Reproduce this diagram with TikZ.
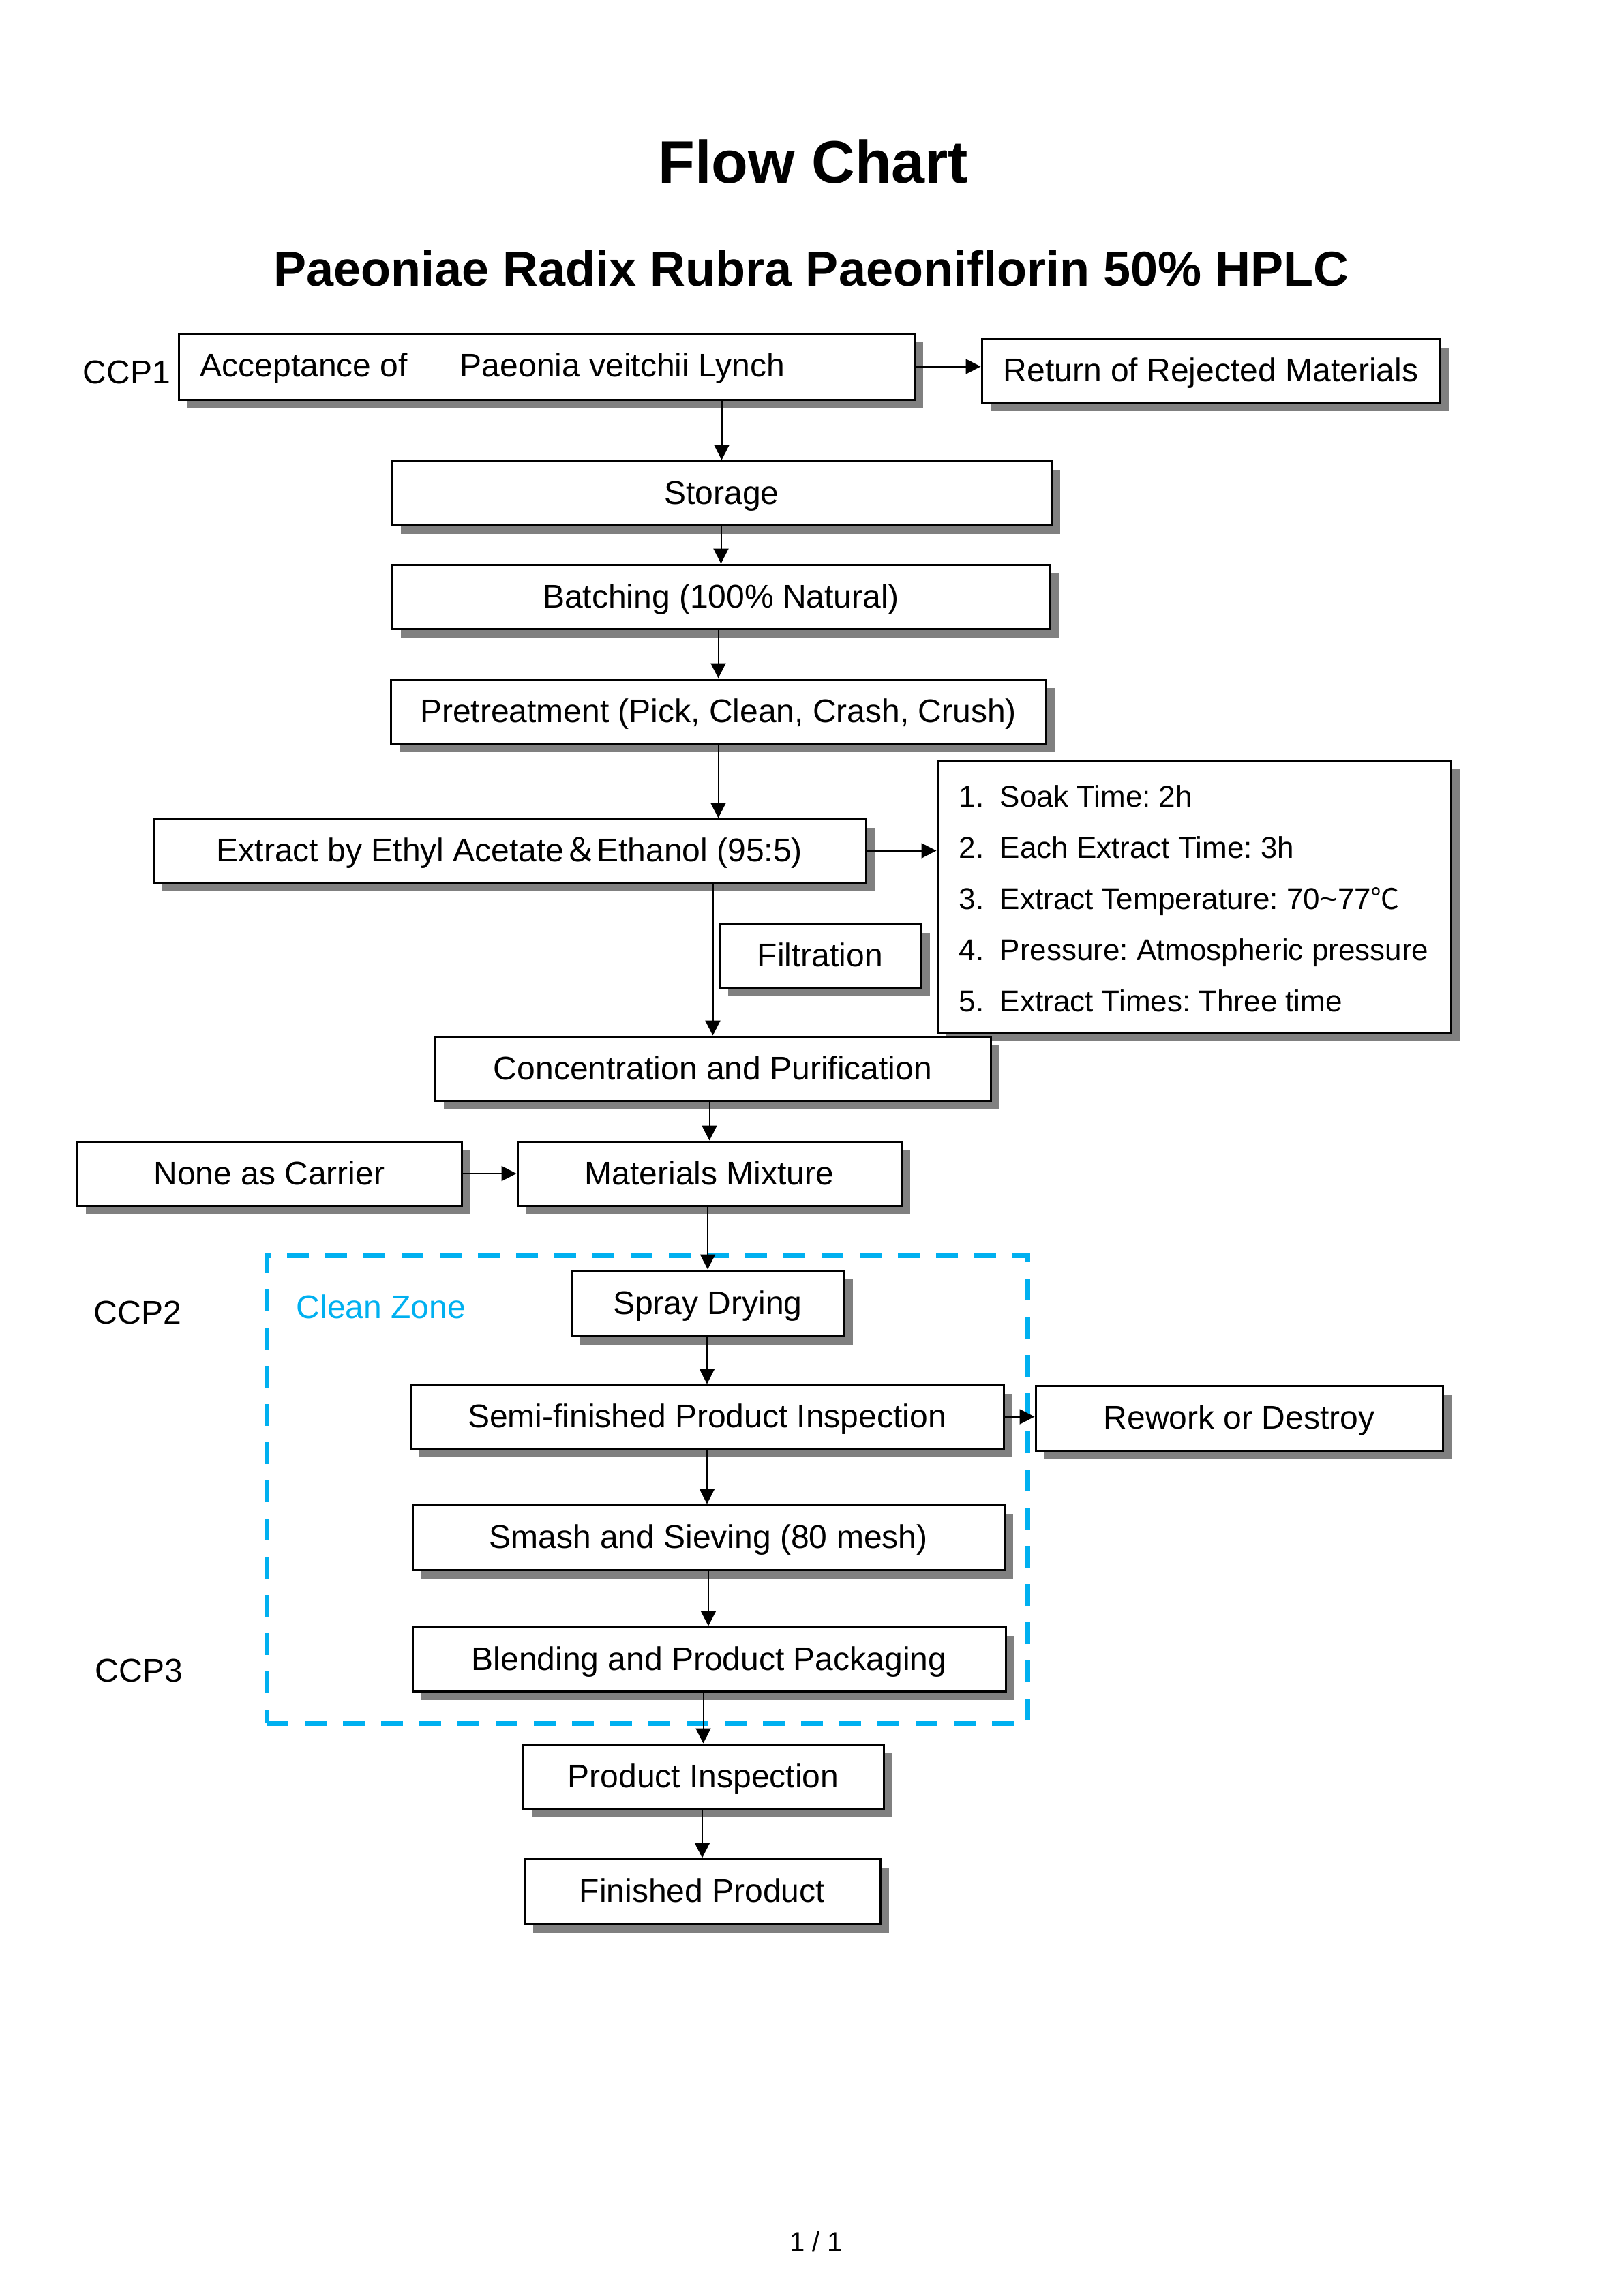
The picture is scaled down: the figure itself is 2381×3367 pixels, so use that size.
\documentclass[tikz,border=0pt]{standalone}
\usepackage{fontspec}
\setmainfont{Liberation Sans}
\newfontfamily\cjk{Noto Sans CJK SC}
\usetikzlibrary{shadows,arrows.meta,calc}
\definecolor{shd}{RGB}{128,128,128}
\definecolor{zone}{RGB}{0,176,240}
\frenchspacing
\begin{document}
\begin{tikzpicture}[x=0.25pt,y=-0.25pt,
  box/.style={draw, line width=0.75pt, fill=white, inner sep=0pt,
    font=\fontsize{12}{14}\selectfont, text height=11pt, text depth=3pt,
    drop shadow={shadow xshift=3.25pt, shadow yshift=-3.25pt, fill=shd, opacity=1}},
  sz/.style 2 args={minimum width=#1*0.25pt, minimum height=#2*0.25pt},
  arr/.style={line width=0.5pt, -{Triangle[length=5.5pt,width=5.5pt]}},
  lbl/.style={inner sep=0pt, anchor=base west, font=\fontsize{12}{14}\selectfont},
  plbl/.style={inner sep=0pt, anchor=base west, font=\fontsize{11}{13}\selectfont},
]
\useasboundingbox (0,0) rectangle (2381,3367);

% titles
\node[inner sep=0pt, anchor=base, font=\fontsize{22}{26}\selectfont\bfseries] (title) at (1193,268) {Flow Chart};
\node[inner sep=0pt, anchor=base, font=\fontsize{18}{22}\selectfont\bfseries] (sub) at (1190,419) {Paeoniae Radix Rubra Paeoniflorin 50\% HPLC};

% clean zone
\node[draw=zone, line width=1.75pt, dash pattern=on 8pt off 6pt, inner sep=0pt, sz={1116}{686}] (cz) at (949,2184) {};
\node[lbl, text=zone] (czt) at (434,1933) {Clean Zone};

% boxes
\node[box, sz={1079}{97}] (acc) at (801.5,537.5) {};
\node[lbl] (acct) at (293,552) {Acceptance of\hspace{19.25pt}Paeonia veitchii Lynch};
\node[lbl] (ccp1) at (121,562) {CCP1};
\node[box, sz={672}{93}] (ret) at (1776,543.5) {Return of Rejected Materials};
\node[box, sz={967}{94}] (sto) at (1058.5,723) {Storage};
\node[box, sz={965}{94}] (bat) at (1057.5,875) {Batching (100\% Natural)};
\node[box, sz={961}{94}] (pre) at (1053.5,1043) {Pretreatment (Pick, Clean, Crash, Crush)};
\node[box, sz={1045}{93}] (ext) at (747.5,1247.5) {Extract by Ethyl Acetate{\cjk ＆}Ethanol (95:5)};
\node[box, sz={753}{399}] (prm) at (1751.5,1314.5) {};
\node[plbl] (p1) at (1406,1183) {\makebox[15pt][l]{1.}Soak Time: 2h};
\node[plbl] (p2) at (1406,1258) {\makebox[15pt][l]{2.}Each Extract Time: 3h};
\node[plbl] (p3) at (1406,1333) {\makebox[15pt][l]{3.}Extract Temperature: 70\textasciitilde77{\cjk\fontsize{10.5}{12}\selectfont ℃}};
\node[plbl] (p4) at (1406,1408) {\makebox[15pt][l]{4.}Pressure: Atmospheric pressure};
\node[plbl] (p5) at (1406,1483) {\makebox[15pt][l]{5.}Extract Times: Three time};
\node[box, sz={296}{93}] (fil) at (1203,1401.5) {Filtration};
\node[box, sz={815}{94}] (con) at (1045.5,1567) {Concentration and Purification};
\node[box, sz={564}{94}] (non) at (395,1721) {None as Carrier};
\node[box, sz={563}{94}] (mat) at (1040.5,1721) {Materials Mixture};
\node[box, sz={400}{96}] (spr) at (1038,1911) {Spray Drying};
\node[lbl] (ccp2) at (137,1941) {CCP2};
\node[box, sz={870}{93}] (sem) at (1037,2077.5) {Semi-finished Product Inspection};
\node[box, sz={597}{95}] (rew) at (1817.5,2079.5) {Rework or Destroy};
\node[box, sz={868}{95}] (sma) at (1039,2254.5) {Smash and Sieving (80 mesh)};
\node[box, sz={870}{94}] (ble) at (1040,2433) {Blending and Product Packaging};
\node[lbl] (ccp3) at (139,2466) {CCP3};
\node[box, sz={529}{94}] (pin) at (1031.5,2605) {Product Inspection};
\node[box, sz={522}{95}] (fin) at (1030,2773.5) {Finished Product};

\node[inner sep=0pt, anchor=base, font=\fontsize{10}{12}\selectfont] (pg) at (1197,3301) {1 / 1};

% connectors
\draw[arr] (acc.south -| sto.north) -- (sto.north);
\draw[arr] (acc.east) -- (acc.east -| ret.west);
\draw[arr] (sto.south -| bat.north) -- (bat.north);
\draw[arr] (bat.south -| pre.north) -- (pre.north);
\draw[arr] (pre.south) -- (pre.south |- ext.north);
\draw[arr] (ext.south -| con.north) -- (con.north);
\draw[arr] (ext.east) -- (ext.east -| prm.west);
\draw[arr] (con.south -| mat.north) -- (mat.north);
\draw[arr] (non.east) -- (non.east -| mat.west);
\draw[arr] (mat.south -| spr.north) -- (spr.north);
\draw[arr] (spr.south -| sem.north) -- (sem.north);
\draw[arr] (sem.east) -- (sem.east -| rew.west);
\draw[arr] (sem.south) -- (sem.south |- sma.north);
\draw[arr] (sma.south) -- (sma.south |- ble.north);
\draw[arr] (ble.south -| pin.north) -- (pin.north);
\draw[arr] (pin.south -| fin.north) -- (fin.north);
\end{tikzpicture}
\end{document}
